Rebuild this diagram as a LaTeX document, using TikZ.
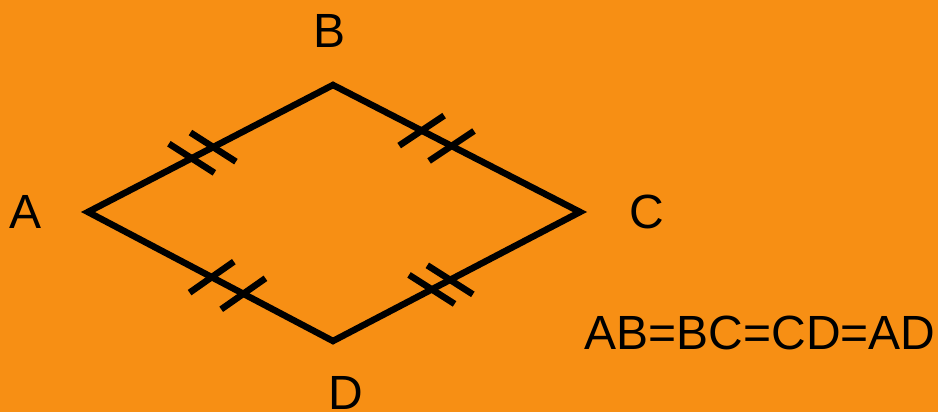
\documentclass[tikz,border=0pt]{standalone}
\usepackage{fontspec}
\setmainfont{Liberation Sans}
\definecolor{BgOrange}{RGB}{247,143,20}
\usetikzlibrary{calc}

\begin{document}
\begin{tikzpicture}[
  x=1pt, y=-1pt,
  side/.style={
    draw=black, line width=6.5pt,
    line join=miter},
  tickmark/.style={
    draw=black, line width=6.5pt},
  vertex/.style={
    inner sep=0pt,
    font=\fontsize{48}{57}\selectfont}
]
\useasboundingbox (0,0) rectangle (938,412);
\fill[BgOrange] (0,0) rectangle (938,412);

% corners of the rhombus
\coordinate (A) at (88,212);
\coordinate (B) at (333,85);
\coordinate (C) at (580,212);
\coordinate (D) at (333,341);

\draw[side] (A) -- (B) -- (C) -- (D) -- cycle;

% equal-side marks
\foreach \p/\q/\t/\a in
  {A/B/0.423/32.6, A/B/0.511/32.6,
   B/C/0.359/-33.7, B/C/0.480/-33.7,
   D/C/0.400/32.5, D/C/0.474/32.5,
   A/D/0.505/-35, A/D/0.634/-35}{
  \draw[tickmark] ($(\p)!\t!(\q)$) ++(\a:-27) -- ++(\a:54);
}

\node[vertex] (la) at (26,212) {A};
\node[vertex] (lb) at (330,31) {B};
\node[vertex] (lc) at (647,212) {C};
\node[vertex] (ld) at (346,393) {D};

\node[vertex] (eq) at (760,333) {AB=BC=CD=AD};
\end{tikzpicture}
\end{document}
